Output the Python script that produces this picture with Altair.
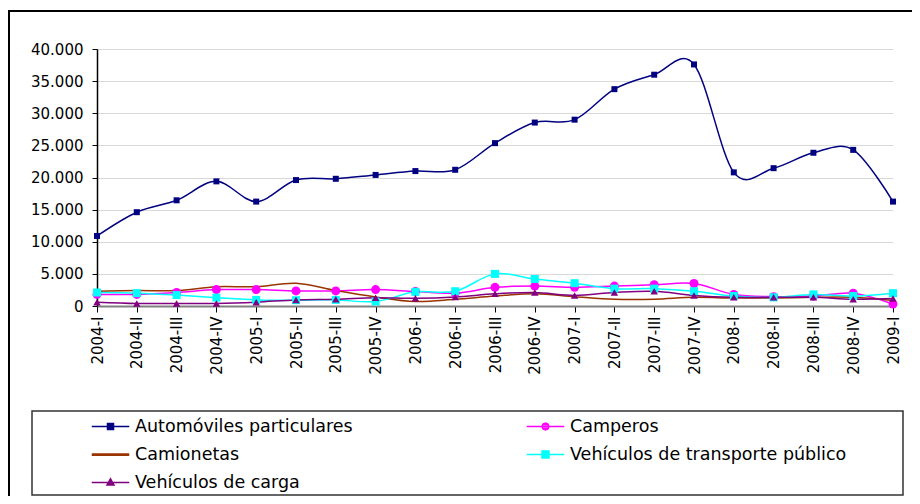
import altair as alt
import pandas as pd

periods = ["2004-I", "2004-II", "2004-III", "2004-IV", "2005-I", "2005-II", "2005-III",
           "2005-IV", "2006-I", "2006-II", "2006-III", "2006-IV", "2007-I", "2007-II",
           "2007-III", "2007-IV", "2008-I", "2008-II", "2008-III", "2008-IV", "2009-I"]

automoviles = [10900, 14600, 16450, 19400, 16250, 19600, 19800, 20400, 21000, 21200, 25350,
               28550, 29000, 33750, 36000, 37600, 20800, 21450, 23850, 24300, 16250]
camperos = [1800, 1800, 2100, 2550, 2550, 2350, 2350, 2550, 2250, 2000, 2900,
            3100, 2900, 3100, 3300, 3500, 1800, 1450, 1550, 2000, 300]
camionetas = [2300, 2400, 2400, 3000, 3000, 3550, 2400, 1400, 700, 1050, 1550,
              1900, 1450, 1050, 1050, 1350, 1250, 1250, 1350, 1350, 850]
transporte = [2100, 2000, 1700, 1300, 950, 900, 950, 700, 2200, 2300, 5000,
              4200, 3550, 2700, 2700, 2300, 1550, 1350, 1800, 1550, 2000]
carga = [600, 400, 400, 400, 600, 950, 1050, 1300, 1200, 1400, 1900,
         2100, 1650, 2100, 2300, 1650, 1350, 1350, 1350, 1050, 1150]

names = ["Automóviles particulares", "Camperos", "Camionetas",
         "Vehículos de transporte público", "Vehículos de carga"]
colors = ["#000080", "#FF00FF", "#993300", "#00FFFF", "#800080"]
widths = [1.5, 1.5, 3, 1.5, 1.5]
series_values = [automoviles, camperos, camionetas, transporte, carga]

rows = []
for n, vals in zip(names, series_values):
    for p, v in zip(periods, vals):
        rows.append({"series": n, "period": p, "value": v})
df = pd.DataFrame(rows)

FONT = "DejaVu Sans"

x_enc = alt.X("period:N", sort=periods, scale=alt.Scale(type="point", padding=0),
              axis=alt.Axis(title=None, labelAngle=270, labelFontSize=15, labelFont=FONT,
                            labelColor="black", ticks=True, tickSize=6, tickColor="black",
                            tickWidth=1, labelPadding=4, domain=True, domainColor="#808080",
                            domainWidth=2, grid=False))
y_enc = alt.Y("value:Q", scale=alt.Scale(domain=[0, 40000]),
              axis=alt.Axis(title=None, values=list(range(0, 40001, 5000)),
                            labelExpr="replace(format(datum.value, ',d'), ',', '.')",
                            labelFontSize=15, labelFont=FONT, labelColor="black",
                            ticks=True, tickSize=5, tickColor="black", tickWidth=1,
                            labelPadding=9, domain=True, domainColor="black", domainWidth=1.5,
                            grid=True, gridColor="#d9d9d9", gridWidth=1))

color_scale = alt.Scale(domain=names, range=colors)
base = alt.Chart(df)

lines = base.mark_line(interpolate="cardinal").encode(
    x=x_enc, y=y_enc,
    color=alt.Color("series:N", scale=color_scale, legend=None),
    strokeWidth=alt.StrokeWidth("series:N", scale=alt.Scale(domain=names, range=widths), legend=None),
    detail="series:N",
)

marker_specs = [
    (names[0], "square", 36, colors[0]),
    (names[1], "circle", 81, colors[1]),
    (names[3], "square", 64, colors[3]),
    (names[4], "triangle-up", 56, colors[4]),
]
point_layers = []
for n, shp, sz, col in marker_specs:
    point_layers.append(
        base.transform_filter(alt.datum.series == n)
        .mark_point(shape=shp, size=sz, filled=True, color=col, opacity=1)
        .encode(x=x_enc, y=y_enc)
    )

# legend glyphs: a line with a marker (markers filled with extra strokes)
glyphs = {
    names[0]: "M-1.5,0H1.5M-0.24,-0.24H0.24V0.24H-0.24ZM-0.24,-0.12H0.24M-0.24,0.12H0.24",
    names[1]: "M-1.5,0H1.5M0.28,0L0.2,0.2L0,0.28L-0.2,0.2L-0.28,0L-0.2,-0.2L0,-0.28L0.2,-0.2Z"
              "M-0.24,-0.14H0.24M-0.24,0.14H0.24",
    names[2]: "M-1.5,-0.05H1.5M-1.5,0.05H1.5",
    names[3]: "M-1.5,0H1.5M-0.28,-0.28H0.28V0.28H-0.28ZM-0.28,-0.14H0.28M-0.28,0.14H0.28"
              "M-0.28,-0.07H0.28M-0.28,0.07H0.28M-0.28,-0.21H0.28M-0.28,0.21H0.28",
    names[4]: "M-1.5,0H1.5M0,-0.3L0.28,0.2H-0.28ZM-0.21,0.1H0.21M-0.14,-0.05H0.14M-0.07,-0.17H0.07",
}
# legend is filled column by column: reorder so it reads row by row as in the original
legend_order = [names[0], names[2], names[4], names[1], names[3]]
legend_colors = [colors[names.index(n)] for n in legend_order]
legend_paths = [glyphs[n] for n in legend_order]

leg = alt.Legend(title=".", titleOpacity=0, titleFontSize=10, titlePadding=354,
                 orient="top-left", offset=0, columns=2,
                 columnPadding=170, rowPadding=6, padding=0, labelOffset=11,
                 labelFont=FONT, labelFontSize=17.5, labelColor="black", labelLimit=500,
                 symbolSize=625, symbolStrokeWidth=1.5)

leg_df = pd.DataFrame({"series": names, "period": [periods[0]] * 5, "value": [-8000] * 5})
legend_layer = alt.Chart(leg_df).mark_point(clip=True, filled=False, size=625,
                                            strokeWidth=1.5, opacity=1).encode(
    x=x_enc, y=y_enc,
    stroke=alt.Stroke("series:N", scale=alt.Scale(domain=legend_order, range=legend_colors),
                      legend=leg),
    shape=alt.Shape("series:N", scale=alt.Scale(domain=legend_order, range=legend_paths),
                    legend=leg),
)

one = pd.DataFrame({"k": [0]})
frame_top = alt.Chart(one).mark_rule(color="black", strokeWidth=2).encode(
    x=alt.value(-89), x2=alt.value(900), y=alt.value(-38))
frame_left = alt.Chart(one).mark_rule(color="black", strokeWidth=2).encode(
    x=alt.value(-88), y=alt.value(-39), y2=alt.value(460))
legend_box = alt.Chart(one).mark_rect(filled=False, stroke="#333333", strokeWidth=1.5).encode(
    x=alt.value(-65), x2=alt.value(806), y=alt.value(362), y2=alt.value(446))

chart = alt.layer(
    lines, *point_layers, legend_layer, frame_top, frame_left, legend_box
).properties(
    width=796, height=257,
    padding={"left": 89, "top": 41, "right": 19, "bottom": 190},
    autosize=alt.AutoSizeParams(type="none"),
    background="white",
).configure_view(stroke=None)

chart.save("out.html", embed_options={"renderer": "svg", "actions": False})
